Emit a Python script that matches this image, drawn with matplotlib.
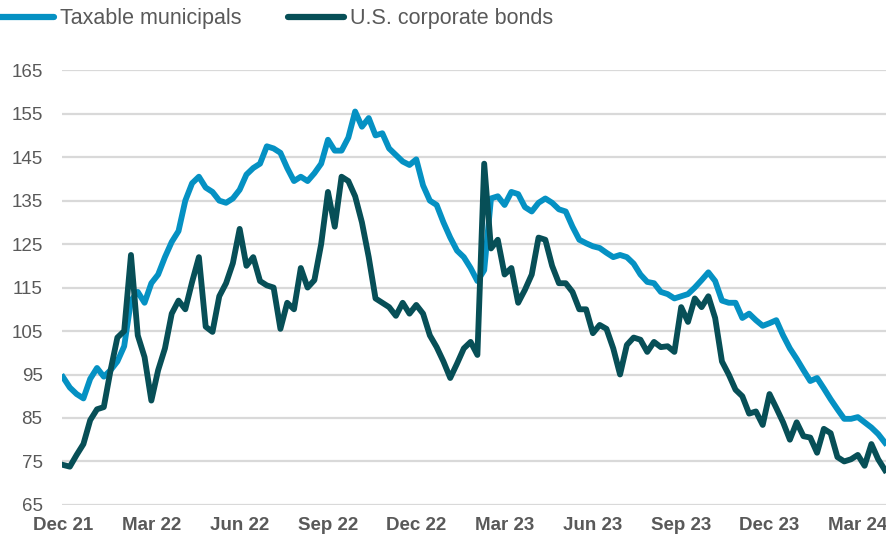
import matplotlib
matplotlib.use("Agg")
import matplotlib.pyplot as plt
import numpy as np

# weekly index values, end of Dec 2021 through mid Apr 2024
taxable_munis = [
    94.4, 92.0, 90.5, 89.5, 94.0, 96.5, 94.5, 96.0, 98.0, 101.5,
    112.0, 114.0, 111.5, 116.0, 118.0, 122.0, 125.5, 128.0, 135.0, 139.0,
    140.5, 138.0, 137.0, 135.0, 134.5, 135.5, 137.5, 141.0, 142.5, 143.5,
    147.5, 147.0, 146.0, 142.5, 139.5, 140.5, 139.5, 141.3, 143.5, 149.0,
    146.5, 146.5, 149.5, 155.5, 152.0, 154.0, 150.0, 150.5, 147.0, 145.5,
    144.0, 143.2, 144.5, 138.5, 135.0, 134.0, 130.0, 126.5, 123.5, 122.0,
    119.5, 116.5, 119.0, 135.5, 136.0, 134.0, 137.0, 136.5, 133.5, 132.5,
    134.5, 135.5, 134.5, 133.0, 132.5, 129.0, 126.0, 125.2, 124.5, 124.1,
    123.0, 122.0, 122.5, 122.0, 120.5, 118.0, 116.3, 116.0, 114.0, 113.5,
    112.5, 113.0, 113.5, 115.0, 116.7, 118.5, 116.5, 112.0, 111.5, 111.5,
    108.0, 109.0, 107.5, 106.2, 106.8, 107.5, 104.0, 101.0, 98.6, 96.0,
    93.5, 94.2, 91.8, 89.3, 87.0, 84.8, 84.8, 85.2, 84.0, 82.8,
    81.3, 79.3,
]
corp_bonds = [
    74.2, 73.8, 76.5, 79.0, 84.5, 87.0, 87.5, 96.0, 103.5, 105.0,
    122.5, 104.0, 99.0, 89.0, 96.0, 101.0, 109.0, 112.0, 110.0, 116.3,
    122.0, 106.0, 104.8, 113.0, 116.0, 120.6, 128.5, 120.0, 122.0, 116.5,
    115.5, 115.0, 105.5, 111.5, 110.0, 119.5, 115.0, 116.7, 125.0, 137.0,
    129.0, 140.5, 139.5, 136.0, 130.0, 122.0, 112.5, 111.5, 110.5, 108.5,
    111.5, 109.0, 111.0, 109.0, 104.0, 101.3, 98.0, 94.2, 97.5, 101.0,
    102.5, 99.5, 143.5, 124.0, 126.0, 118.0, 119.5, 111.5, 114.5, 118.0,
    126.5, 126.0, 120.0, 116.0, 116.0, 114.0, 110.0, 110.0, 104.5, 106.4,
    105.5, 101.0, 95.0, 101.8, 103.5, 103.0, 100.2, 102.5, 101.3, 101.5,
    100.2, 110.5, 107.1, 112.5, 110.5, 113.0, 108.0, 98.0, 95.0, 91.5,
    90.0, 86.0, 86.5, 83.4, 90.5, 87.3, 84.0, 80.0, 84.0, 80.8,
    80.5, 77.0, 82.5, 81.5, 76.0, 75.0, 75.5, 76.5, 74.0, 79.0,
    75.5, 73.0,
]
tick_labels = ["Dec 21", "Mar 22", "Jun 22", "Sep 22", "Dec 22",
               "Mar 23", "Jun 23", "Sep 23", "Dec 23", "Mar 24"]

BLUE = "#0591c3"
TEAL = "#074f57"
GREY = "#595959"

plt.rcParams["font.family"] = ["Liberation Sans", "DejaVu Sans"]

fig = plt.figure(figsize=(8.86, 5.36), dpi=100)
ax = fig.add_axes([0.07, 0.058, 0.93, 0.811])

x = np.arange(len(taxable_munis))
ax.plot(x, taxable_munis, color=BLUE, lw=4.2, solid_joinstyle="round",
        label="Taxable municipals", zorder=3)
ax.plot(x, corp_bonds, color=TEAL, lw=4.2, solid_joinstyle="round",
        label="U.S. corporate bonds", zorder=4)

ax.set_xlim(-0.15, len(x) - 0.85)
ax.set_ylim(65, 165)
ax.set_yticks(np.arange(65, 166, 10))
ax.set_xticks(np.arange(0, len(x), 13)[:len(tick_labels)])
ax.set_xticklabels(tick_labels, fontweight="bold")
ax.tick_params(axis="both", length=0, colors=GREY, labelsize=13.5)
ax.tick_params(axis="y", pad=14)
ax.tick_params(axis="x", pad=9)
ax.grid(axis="y", color="#d9d9d9", lw=1.6)
ax.set_axisbelow(True)
for s in ax.spines.values():
    s.set_visible(False)

leg = fig.legend(loc="upper left", bbox_to_anchor=(-0.002, 0.985), ncol=2,
                 frameon=False, fontsize=15.5, handlelength=2.6,
                 handletextpad=0.25, columnspacing=2.2, borderpad=0,
                 borderaxespad=0, labelcolor=GREY)
for h in leg.get_lines():
    h.set_linewidth(4.5)
    h.set_solid_capstyle("round")

fig.savefig("out.png", dpi=100)
